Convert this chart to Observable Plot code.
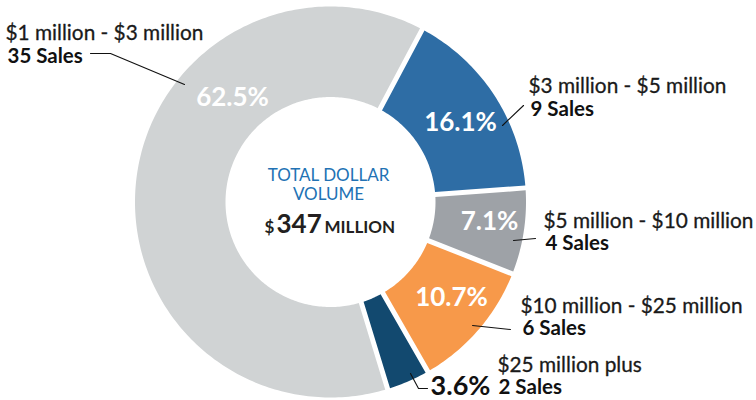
<!DOCTYPE html>
<html><head><meta charset="utf-8">
<script src="https://cdn.jsdelivr.net/npm/d3@7"></script>
<script src="https://cdn.jsdelivr.net/npm/@observablehq/plot@0.6"></script>
<style>body{margin:0;background:#fff;} svg{display:block;}</style>
</head><body><div id="chart"></div>
<script>
// ---- data ----
const categories = ["$1 million - $3 million", "$3 million - $5 million", "$5 million - $10 million", "$10 million - $25 million", "$25 million plus"];
const sales = [35, 9, 4, 6, 2];
const percentLabels = ["62.5%", "16.1%", "7.1%", "10.7%", "3.6%"];
const salesLabels = ["35 Sales", "9 Sales", "4 Sales", "6 Sales", "2 Sales"];
const centerTitle = ["TOTAL DOLLAR", "VOLUME"];
const totalParts = ["$", "347", "MILLION"];

// ---- style / layout ----
const colors = ["#D0D3D4", "#2E6DA5", "#9EA2A7", "#F7994A", "#12496F"];
const cx = 330, cy = 201.5, R = 195.5, r0 = 105, gap = 5, startDeg = 163;
const rangeLabelPos = [[5, 39], [528, 92], [543, 227], [520, 312], [497, 371]];
const salesLabelPos = [[7, 62], [530, 115], [545, 249], [522, 334], [498, 393]];
const pctPos = [[232, 97], [460, 122], [489, 221], [451, 297], [460, 386]];
const leaders = [
  [[90, 53], [110, 53], [184, 84]],
  [[502, 125], [523, 105]],
  [[513, 240], [535, 238]],
  [[472, 325], [510, 329]],
  [[410, 373], [418, 388], [427, 388]]
];
const FONT = "Lato, 'Open Sans', sans-serif";

// ---- build slice polygons from data ----
const total = d3.sum(sales);
const pts = [];
let acc = startDeg * Math.PI / 180;
sales.forEach((v, i) => {
  const a0 = acc, a1 = acc + v / total * 2 * Math.PI;
  acc = a1;
  const dO = Math.asin(gap / 2 / R), dI = Math.asin(gap / 2 / r0);
  const n = Math.max(8, Math.ceil((a1 - a0) * 180 / Math.PI));
  const P = (a, rr) => ({cat: categories[i], x: cx + rr * Math.sin(a), y: cy - rr * Math.cos(a)});
  for (let k = 0; k <= n; k++) pts.push(P(a0 + dO + (a1 - a0 - 2 * dO) * k / n, R));
  for (let k = n; k >= 0; k--) pts.push(P(a0 + dI + (a1 - a0 - 2 * dI) * k / n, r0));
});

const rangeRows = categories.map((c, i) => ({text: c, x: rangeLabelPos[i][0], y: rangeLabelPos[i][1]}));
const salesRows = salesLabels.map((c, i) => ({text: c, x: salesLabelPos[i][0], y: salesLabelPos[i][1]}));
const pctRows = percentLabels.map((c, i) => ({text: c, x: pctPos[i][0], y: pctPos[i][1], inside: i < 4}));
const leaderRows = leaders.flatMap((L, i) => L.map(([x, y]) => ({id: i, x, y})));

const chart = Plot.plot({
  width: 756, height: 400, margin: 0,
  x: {domain: [0, 756], range: [0, 756], axis: null},
  y: {domain: [0, 400], range: [0, 400], axis: null},
  color: {domain: categories, range: colors},
  style: {fontFamily: FONT, background: "#fff"},
  marks: [
    Plot.line(pts, {x: "x", y: "y", z: "cat", fill: "cat", stroke: null, curve: "linear"}),
    Plot.line(leaderRows, {x: "x", y: "y", z: "id", stroke: "#111", strokeWidth: 1.1}),
    Plot.text(rangeRows, {x: "x", y: "y", text: "text", textAnchor: "start", lineAnchor: "bottom", fontSize: 20.8, fill: "#1a1a1a", stroke: "#1a1a1a", strokeWidth: 0.3}),
    Plot.text(salesRows, {x: "x", y: "y", text: "text", textAnchor: "start", lineAnchor: "bottom", fontSize: 20.5, fontWeight: "bold", fill: "#111"}),
    Plot.text(pctRows.filter(d => d.inside), {x: "x", y: "y", text: "text", fontSize: 26, fontWeight: "bold", fill: "#fff"}),
    Plot.text(pctRows.filter(d => !d.inside), {x: "x", y: "y", text: "text", fontSize: 27, fontWeight: "bold", fill: "#111"}),
    Plot.text(centerTitle.map((t, i) => ({t, y: 180 + i * 19})), {x: () => 328, y: "y", text: "t", lineAnchor: "bottom", fontSize: 17, fill: "#2272B4"}),
    Plot.text([totalParts[0]], {x: () => 264, y: () => 232, text: d => d, textAnchor: "start", lineAnchor: "bottom", fontSize: 17, fontWeight: "bold", fill: "#231F20"}),
    Plot.text([totalParts[1]], {x: () => 276, y: () => 232, text: d => d, textAnchor: "start", lineAnchor: "bottom", fontSize: 26, fontWeight: "bold", fill: "#231F20"}),
    Plot.text([totalParts[2]], {x: () => 324, y: () => 232, text: d => d, textAnchor: "start", lineAnchor: "bottom", fontSize: 17, fontWeight: "bold", fill: "#231F20"})
  ]
});
document.getElementById("chart").appendChild(chart);
</script>
</body></html>
